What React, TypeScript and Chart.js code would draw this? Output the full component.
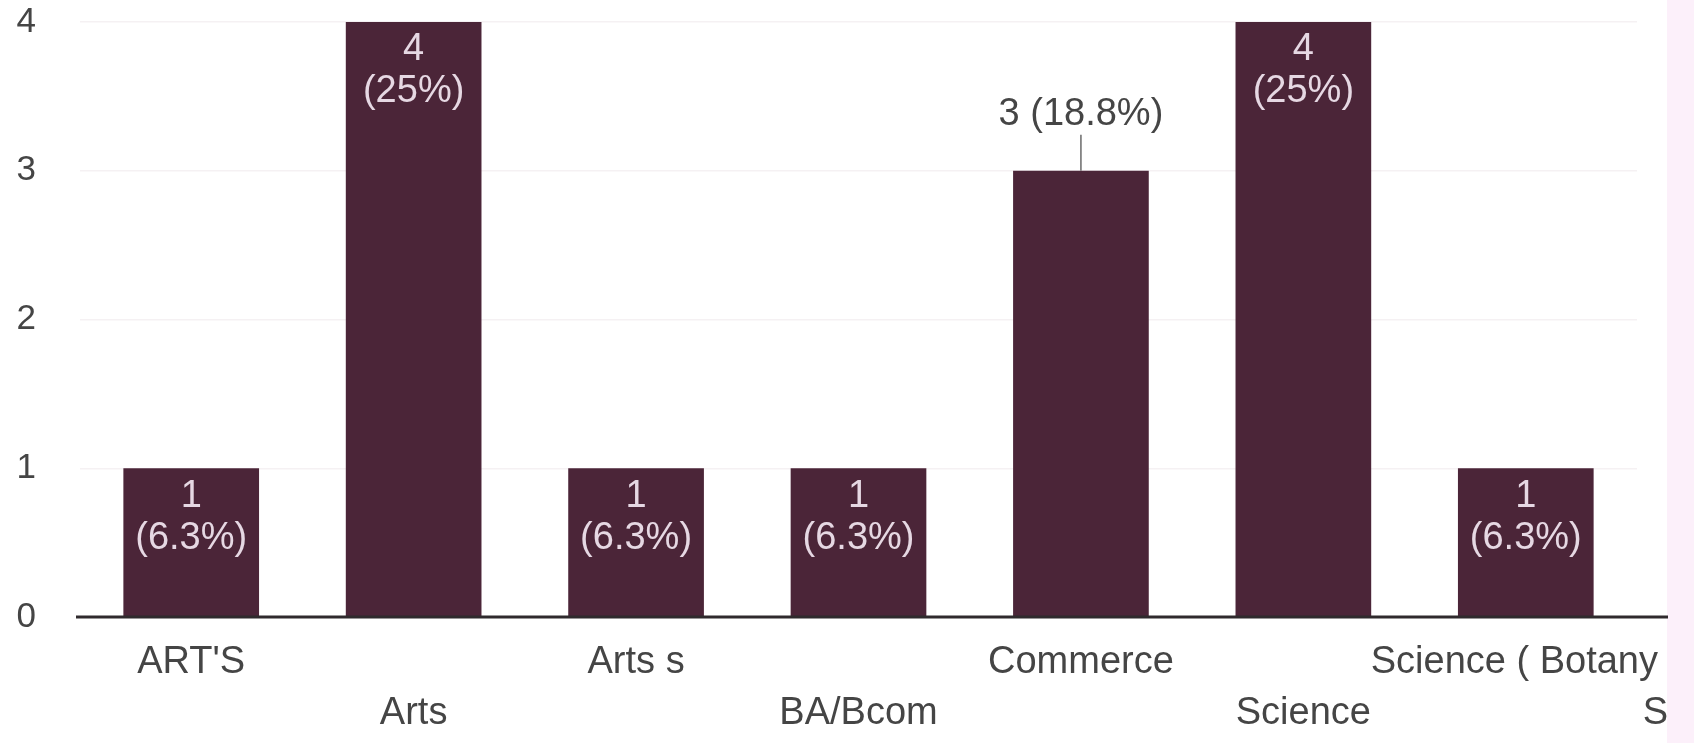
import React, { useEffect, useRef } from "react";
import { Chart, registerables } from "chart.js";

Chart.register(...registerables);

const categories: string[][] = [
  ["ART'S"],
  ["Arts"],
  ["Arts s"],
  ["BA/Bcom"],
  ["Commerce"],
  ["Science"],
  ["Science ( Botany", "S"],
];
const counts: number[] = [1, 4, 1, 1, 3, 4, 1];
const totalResponses = 16;
const yTicks: number[] = [0, 1, 2, 3, 4];
const outsideLabelCategories: string[] = ["Commerce"];

const FONT = "'Liberation Sans', Arial, sans-serif";
const BAR_COLOR = "#4b2538";
const TEXT_COLOR = "#454545";
const INNER_TEXT = "#e6d8e3";

const pct = (v: number) => {
  const p = ((v / totalResponses) * 100).toFixed(1);
  return p.endsWith(".0") ? p.slice(0, -2) : p;
};

const overlayPlugin = {
  id: "overlay",
  afterDatasetsDraw(chart: any) {
    const { ctx, chartArea, scales } = chart;
    const x = scales.x;
    const y = scales.y;
    const zeroY = y.getPixelForValue(0);
    const axisEnd = chartArea.right + 31;
    ctx.save();
    // baseline
    ctx.strokeStyle = "#2f2a2d";
    ctx.lineWidth = 3;
    ctx.beginPath();
    ctx.moveTo(chartArea.left - 4, zeroY);
    ctx.lineTo(axisEnd, zeroY);
    ctx.stroke();

    // data labels
    const meta = chart.getDatasetMeta(0);
    ctx.textAlign = "center";
    ctx.textBaseline = "middle";
    ctx.font = `38px ${FONT}`;
    meta.data.forEach((bar: any, i: number) => {
      const v = counts[i];
      const top = bar.y;
      const cx = bar.x;
      if (outsideLabelCategories.includes(categories[i][0])) {
        ctx.fillStyle = TEXT_COLOR;
        ctx.fillText(`${v} (${pct(v)}%)`, cx, top - 56);
        ctx.strokeStyle = "#6a6a6a";
        ctx.lineWidth = 1.5;
        ctx.beginPath();
        ctx.moveTo(cx, top - 36);
        ctx.lineTo(cx, top);
        ctx.stroke();
      } else {
        ctx.fillStyle = INNER_TEXT;
        ctx.fillText(String(v), cx, top + 28);
        ctx.fillText(`(${pct(v)}%)`, cx, top + 70);
      }
    });

    // category labels, staggered
    ctx.fillStyle = TEXT_COLOR;
    ctx.font = `38px ${FONT}`;
    categories.forEach((lines, i) => {
      const cx = x.getPixelForValue(i);
      const row = i % 2;
      const ly = zeroY + 46 + row * 51;
      if (lines.length === 1) {
        ctx.textAlign = "center";
        ctx.fillText(lines[0], cx, ly);
      } else {
        const w = ctx.measureText(lines[0]).width;
        if (cx + w / 2 > axisEnd - 10) {
          ctx.textAlign = "right";
          ctx.fillText(lines[0], axisEnd - 10, ly);
          ctx.fillText(lines[1], axisEnd, ly + 51);
        } else {
          ctx.textAlign = "center";
          ctx.fillText(lines[0], cx, ly);
          ctx.fillText(lines[1], cx, ly + 51);
        }
      }
    });
    ctx.restore();
  },
};

export default function App() {
  const ref = useRef<HTMLCanvasElement | null>(null);
  useEffect(() => {
    document.body.style.margin = "0";
    if (!ref.current) return;
    const chart = new Chart(ref.current, {
      type: "bar",
      data: {
        labels: categories.map((c) => c.join(" ")),
        datasets: [
          {
            data: counts,
            backgroundColor: BAR_COLOR,
            borderWidth: 0,
            barPercentage: 0.61,
            categoryPercentage: 1,
          },
        ],
      },
      options: {
        animation: false,
        responsive: false,
        maintainAspectRatio: false,
        layout: { padding: { top: 22, bottom: 126, right: 57, left: 0 } },
        plugins: { legend: { display: false }, tooltip: { enabled: false } },
        scales: {
          x: {
            display: false,
          },
          y: {
            min: yTicks[0],
            max: yTicks[yTicks.length - 1],
            afterFit: (s: any) => {
              s.width = 80;
              s.paddingTop = 0;
              s.paddingBottom = 0;
            },
            afterBuildTicks: (s: any) => {
              s.ticks = yTicks.map((v) => ({ value: v }));
            },
            ticks: {
              padding: 44,
              color: TEXT_COLOR,
              font: { family: FONT, size: 35 },
            },
            grid: { color: "#f5f1f3", drawTicks: false, lineWidth: 1.5 },
            border: { display: false },
          },
        },
      },
      plugins: [overlayPlugin],
    });
    return () => chart.destroy();
  }, []);
  return (
    <div
      style={{
        width: 1694,
        height: 743,
        background: "linear-gradient(to right, #ffffff 1667px, #fcf0fa 1667px)",
      }}
    >
      <canvas ref={ref} width={1694} height={743} style={{ display: "block" }} />
    </div>
  );
}
